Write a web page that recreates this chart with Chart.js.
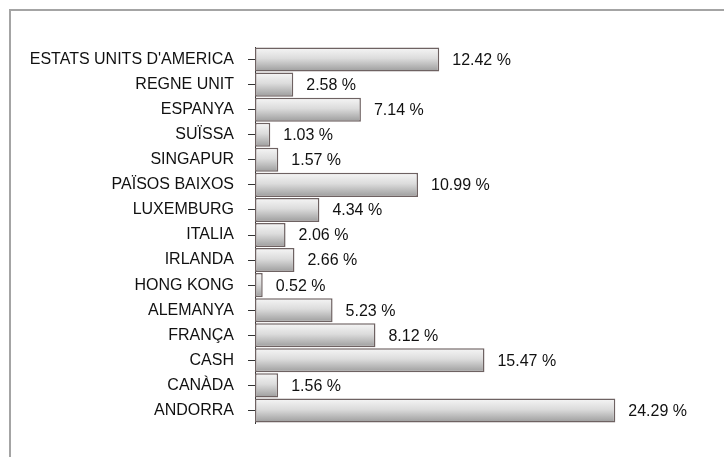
<!DOCTYPE html>
<html>
<head>
<meta charset="utf-8">
<script src="https://cdn.jsdelivr.net/npm/chart.js@4.4.1/dist/chart.umd.min.js"></script>
<style>
    html, body { margin: 0; padding: 0; background: #fff; }
    #wrap { position: relative; width: 724px; height: 457px; }
    #frame {
        position: absolute; left: 9px; top: 9px; right: -5px; bottom: -5px;
        border-left: 2px solid #a4a4a4; border-top: 2px solid #a4a4a4;
        pointer-events: none;
    }
</style>
</head>
<body>
<div id="wrap">
    <canvas id="chart" width="724" height="457"></canvas>
    <div id="frame"></div>
</div>
<script>
const countries = [
    "ESTATS UNITS D'AMERICA", 'REGNE UNIT', 'ESPANYA', 'SUÏSSA', 'SINGAPUR',
    'PAÏSOS BAIXOS', 'LUXEMBURG', 'ITALIA', 'IRLANDA', 'HONG KONG',
    'ALEMANYA', 'FRANÇA', 'CASH', 'CANÀDA', 'ANDORRA'
];
const shares = [12.42, 2.58, 7.14, 1.03, 1.57, 10.99, 4.34, 2.06, 2.66, 0.52, 5.23, 8.12, 15.47, 1.56, 24.29];

const FONT = '"Liberation Sans", Arial, sans-serif';

// vertical gradient per bar, light on top, darker at the bottom
function barFill(context) {
    const chart = context.chart;
    const y = chart.scales.y;
    if (!chart.chartArea || !y || context.dataIndex === undefined) return '#ccc';
    const c = y.getPixelForValue(context.dataIndex);
    const g = chart.ctx.createLinearGradient(0, c - 12, 0, c + 12);
    g.addColorStop(0, '#f6f6f6');
    g.addColorStop(0.45, '#dcdcdc');
    g.addColorStop(1, '#9c9c9c');
    return g;
}

const valueLabels = {
    id: 'valueLabels',
    afterDatasetsDraw(chart) {
        const ctx = chart.ctx;
        const meta = chart.getDatasetMeta(0);
        ctx.save();
        ctx.font = '16px ' + FONT;
        ctx.fillStyle = '#111';
        ctx.textAlign = 'left';
        ctx.textBaseline = 'middle';
        meta.data.forEach((bar, i) => {
            ctx.fillText(shares[i].toFixed(2) + ' %', bar.x + 13, bar.y + 1);
        });
        ctx.restore();
    }
};

new Chart(document.getElementById('chart'), {
    type: 'bar',
    data: {
        labels: countries,
        datasets: [{
            data: shares,
            backgroundColor: barFill,
            borderColor: '#6e6262',
            borderWidth: 1.5,
            borderSkipped: false,
            barPercentage: 0.96,
            categoryPercentage: 1
        }]
    },
    options: {
        indexAxis: 'y',
        responsive: false,
        animation: false,
        layout: { padding: { top: 47, bottom: 34, right: 24, left: 0 } },
        plugins: { legend: { display: false }, tooltip: { enabled: false } },
        scales: {
            x: { display: false, min: 0, max: 30 },
            y: {
                afterFit(scale) { scale.width = 255; },
                grid: { drawOnChartArea: false, drawTicks: true, tickLength: 7, offset: false, color: '#333' },
                border: { display: true, color: '#333', width: 1 },
                ticks: { color: '#111', padding: 14, font: { family: FONT, size: 16 } }
            }
        }
    },
    plugins: [valueLabels]
});
</script>
</body>
</html>
